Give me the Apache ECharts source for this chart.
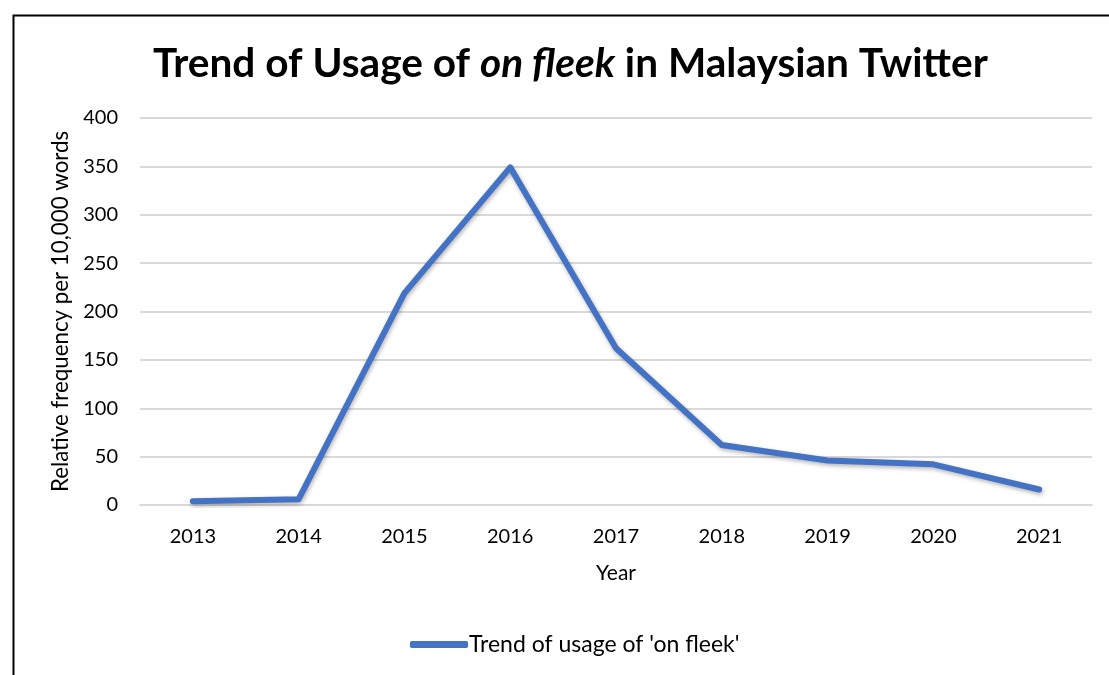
<!DOCTYPE html>
<html><head><meta charset="utf-8">
<script src="https://cdn.jsdelivr.net/npm/echarts@6/dist/echarts.min.js"></script>
<style>html,body{margin:0;padding:0;background:#fff}#c{width:1109px;height:675px}</style>
</head><body><div id="c"></div>
<script>
const years = ['2013','2014','2015','2016','2017','2018','2019','2020','2021'];
const usage = [4, 6, 219, 349, 162, 62, 46, 42, 16];
const seriesName = "Trend of usage of 'on fleek'";
const yTicks = [0, 400, 50];
const FONT = 'Lato, "Open Sans", sans-serif';
const chart = echarts.init(document.getElementById('c'), null, {renderer:'canvas'});
chart.setOption({
  animation: false,
  backgroundColor: '#fff',
  textStyle: {fontFamily: FONT},
  title: {
    text: '{b|Trend of Usage of }{i|on fleek}{b| in Malaysian Twitter}',
    left: 148, top: 38,
    textStyle: {
      rich: {
        b: {fontFamily: FONT, fontWeight: 'bold', fontSize: 40.6, color: '#000'},
        i: {fontFamily: FONT, fontWeight: 'bold', fontStyle: 'italic', fontSize: 40.6, color: '#000'}
      }
    }
  },
  graphic: [{
    type: 'rect', left: 11, top: 13, silent: true,
    shape: {x: 0, y: 0, width: 1200, height: 800},
    style: {fill: 'none', stroke: '#000', lineWidth: 2}
  }],
  grid: {left: 140, right: 17, top: 118, bottom: 170},
  legend: {
    data: [seriesName], left: 405, top: 628,
    icon: 'roundRect', itemWidth: 58, itemHeight: 7, itemGap: 4,
    textStyle: {fontFamily: FONT, fontSize: 23, color: '#000', padding: [0,0,0,-4]}
  },
  xAxis: {
    type: 'category', data: years, boundaryGap: true,
    name: 'Year', nameLocation: 'middle', nameGap: 58,
    nameTextStyle: {fontFamily: FONT, fontSize: 21, color: '#000'},
    axisLine: {show: true, lineStyle: {color: '#d9d9d9', width: 2}},
    axisTick: {show: false},
    axisLabel: {fontFamily: FONT, fontSize: 20, color: '#000', margin: 22}
  },
  yAxis: {
    type: 'value', min: yTicks[0], max: yTicks[1], interval: yTicks[2],
    name: 'Relative frequency per 10,000 words', nameLocation: 'middle', nameGap: 66,
    nameTextStyle: {fontFamily: FONT, fontSize: 22.3, color: '#000'},
    axisLine: {show: false}, axisTick: {show: false},
    axisLabel: {fontFamily: FONT, fontSize: 20, color: '#000', margin: 22},
    splitLine: {lineStyle: {color: '#d9d9d9', width: 2}}
  },
  series: [{
    name: seriesName, type: 'line', data: usage,
    symbol: 'none', smooth: false,
    lineStyle: {color: '#4472C4', width: 6, cap: 'round', join: 'round',
      shadowColor: 'rgba(0,0,0,0.3)', shadowBlur: 4, shadowOffsetY: 2, shadowOffsetX: 1},
    itemStyle: {color: '#4472C4'}
  }]
});
</script></body></html>
